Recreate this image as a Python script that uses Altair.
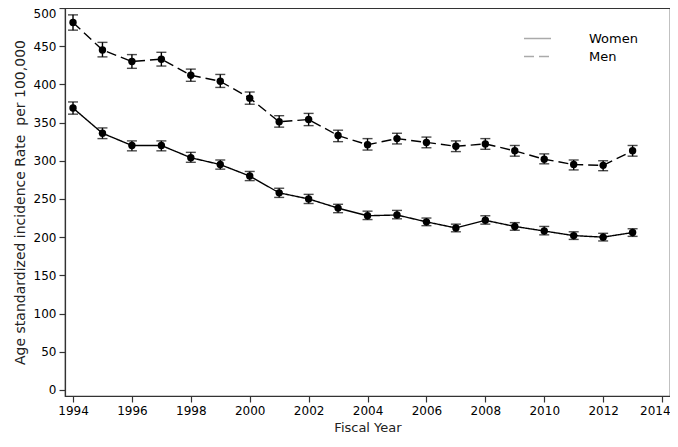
import altair as alt
import pandas as pd

years = list(range(1994, 2014))
men = [481, 445, 430, 433, 412, 404, 382, 351, 354, 333, 321, 329, 324, 319, 322, 313, 302, 295, 294, 313]
men_lo = [471, 436, 421, 424, 404, 396, 374, 344, 346, 325, 314, 322, 317, 312, 315, 306, 296, 288, 287, 306]
men_hi = [491, 455, 439, 442, 420, 413, 390, 359, 362, 340, 329, 336, 331, 326, 329, 320, 309, 301, 300, 320]
women = [369, 336, 320, 320, 304, 295, 280, 258, 250, 238, 228, 229, 220, 212, 222, 214, 208, 202, 200, 206]
women_lo = [361, 329, 313, 313, 298, 289, 274, 252, 244, 232, 223, 224, 215, 207, 217, 209, 203, 197, 195, 201]
women_hi = [377, 343, 326, 326, 311, 301, 286, 264, 256, 243, 234, 235, 225, 217, 228, 219, 214, 207, 205, 211]
groups = ["Women", "Men"]
x_ticks = list(range(1994, 2015, 2))
y_ticks = list(range(0, 501, 50))

rows = []
for g, vals, lo, hi in [("Women", women, women_lo, women_hi), ("Men", men, men_lo, men_hi)]:
    for yr, v, l, h in zip(years, vals, lo, hi):
        rows.append({"year": yr, "group": g, "rate": v, "lo": l, "hi": h})
df = pd.DataFrame(rows)

FONT = "DejaVu Sans"
XTITLE = "Fiscal Year"
YTITLE = "Age standardized incidence Rate \u00a0per 100,000"
xscale = alt.Scale(domain=[1993.728, 2014.27], nice=False, zero=False)
yscale = alt.Scale(domain=[-8, 500], nice=False, zero=False)
xaxis = alt.Axis(values=x_ticks, format="d", grid=False, titleY=35, titleBaseline="alphabetic",
                 titleFontSize=13,
                 labelAlign=alt.expr("datum.value == 2014 ? 'right' : 'center'"),
                 labelOffset=alt.expr("datum.value == 2014 ? 8 : 0"))
yaxis = alt.Axis(values=y_ticks, grid=False, labelFlush=1)

def X(field):
    return alt.X(field, scale=xscale, title=XTITLE, axis=xaxis)

def Y(field):
    return alt.Y(field, scale=yscale, title=YTITLE, axis=yaxis)

base = alt.Chart(df)

lines = base.mark_line(color="black", strokeWidth=1.4).encode(
    x=X("year:Q"), y=Y("rate:Q"),
    strokeDash=alt.StrokeDash("group:N", scale=alt.Scale(domain=groups, range=[[1, 0], [10, 5]]),
                              legend=alt.Legend(title=None, orient="none", legendX=458, legendY=24,
                                                symbolType="stroke", symbolSize=729, clipHeight=13,
                                                symbolStrokeColor="#aaaaaa", symbolStrokeWidth=1.5,
                                                labelOffset=37, labelFontSize=13, labelFont=FONT,
                                                labelColor="black", rowPadding=4, padding=0)),
    detail="group:N",
)

bars = base.mark_errorbar(ticks={"size": 10, "thickness": 1.4, "color": "black"},
                          color="black", thickness=1.4).encode(
    x=X("year:Q"),
    y=Y("lo:Q"),
    y2="hi:Q",
    detail="group:N",
)

pts = base.mark_point(filled=True, color="black", size=55, opacity=1, shape="circle").encode(
    x=X("year:Q"), y=Y("rate:Q")
)

chart = alt.layer(lines, bars, pts).properties(
    width=605, height=388,
    autosize=alt.AutoSizeParams(type="none"),
    padding={"left": 57, "top": 0, "right": 0, "bottom": 38},
).configure_view(
    stroke="#333333", strokeWidth=1.2
).configure_axis(
    domainColor="#333333", domainWidth=1.2, tickColor="#333333", tickSize=6, tickWidth=1.2,
    labelColor="black", labelFont=FONT, labelFontSize=12, titleFont=FONT, titleFontSize=14,
    titleFontWeight="normal", titleColor="#222222",
).configure_axisY(titlePadding=6, labelPadding=3).configure_axisX(labelPadding=3)

chart.save("out.html", embed_options={"renderer": "svg", "actions": False})
